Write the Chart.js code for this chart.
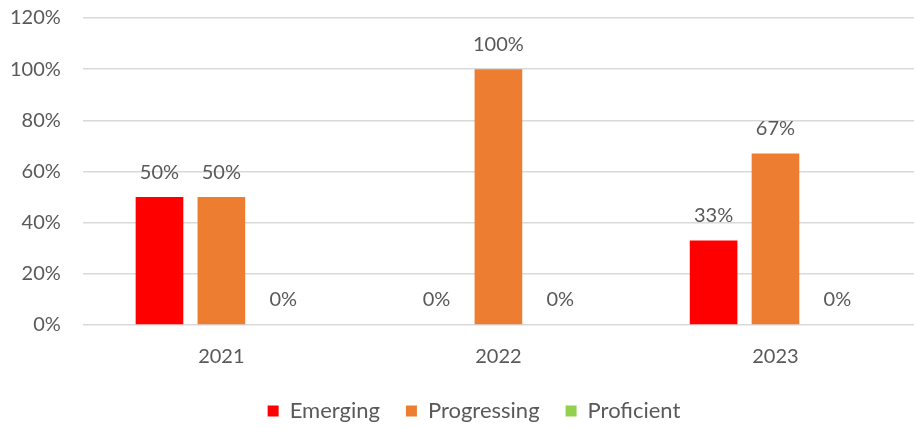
<!DOCTYPE html>
<html>
<head>
<meta charset="utf-8">
<script src="https://cdn.jsdelivr.net/npm/chart.js@4/dist/chart.umd.min.js"></script>
<style>
  html, body { margin: 0; padding: 0; background: #fff; }
  #wrap { width: 914px; height: 428px; position: relative; }
</style>
</head>
<body>
<div id="wrap"><canvas id="Level_Chart"></canvas></div>
<script>
// ข้อมูลกราฟ
const years = ['2021', '2022', '2023'];
const emerging = [50, 0, 33];
const progressing = [50, 100, 67];
const proficient = [0, 0, 0];
const yTicks = [0, 20, 40, 60, 80, 100, 120];

const textColor = '#595959';
const fontFamily = 'Lato, "Open Sans", sans-serif';
const fontSize = 20;

// วาดตัวเลขเปอร์เซ็นต์เหนือแท่ง
const valueLabels = {
    id: 'valueLabels',
    afterDatasetsDraw(chart) {
        const ctx = chart.ctx;
        ctx.save();
        ctx.fillStyle = textColor;
        ctx.font = fontSize + 'px ' + fontFamily;
        ctx.textAlign = 'center';
        ctx.textBaseline = 'middle';
        chart.data.datasets.forEach((ds, i) => {
            chart.getDatasetMeta(i).data.forEach((bar, j) => {
                ctx.fillText(ds.data[j] + '%', bar.x, bar.y - 25);
            });
        });
        ctx.restore();
    }
};

// เลื่อน legend ไปทางขวาเล็กน้อยให้อยู่กลางพื้นที่กราฟ
const legendShift = {
    id: 'legendShift',
    afterLayout(chart) {
        if (chart.legend) {
            chart.legend.left += 11;
            chart.legend.right += 11;
        }
    }
};

const ctx = document.getElementById('Level_Chart').getContext('2d');
const LevelChartInstance = new Chart(ctx, {
    type: 'bar',
    data: {
        labels: years,
        datasets: [
            { label: 'Emerging', data: emerging, backgroundColor: '#ff0000' },
            { label: 'Progressing', data: progressing, backgroundColor: '#ed7d31' },
            { label: 'Proficient', data: proficient, backgroundColor: '#92d050' }
        ]
    },
    options: {
        maintainAspectRatio: false,
        responsive: true,
        animation: false,
        layout: { padding: { top: 0, right: -8, left: 4, bottom: -4 } },
        datasets: {
            bar: { categoryPercentage: 0.67, barPercentage: 0.77 }
        },
        plugins: {
            legend: {
                position: 'bottom',
                labels: {
                    color: textColor,
                    font: { family: fontFamily, size: 22 },
                    boxWidth: 11,
                    boxHeight: 11,
                    padding: 26
                }
            },
            tooltip: { enabled: false }
        },
        scales: {
            x: {
                grid: { display: false },
                border: { display: false },
                ticks: { color: textColor, font: { family: fontFamily, size: fontSize }, padding: 12 },
                afterFit(axis) {
                    axis.height -= 7;
                }
            },
            y: {
                min: 0,
                max: 120,
                afterBuildTicks(axis) {
                    axis.ticks = yTicks.map(v => ({ value: v }));
                },
                grid: { color: '#d9d9d9', lineWidth: 1.5, tickLength: 16, tickColor: 'rgba(0,0,0,0)' },
                border: { display: false },
                ticks: {
                    color: textColor,
                    font: { family: fontFamily, size: fontSize },
                    padding: 6,
                    callback: v => v + '%'
                }
            }
        }
    },
    plugins: [valueLabels, legendShift]
});
</script>
</body>
</html>
